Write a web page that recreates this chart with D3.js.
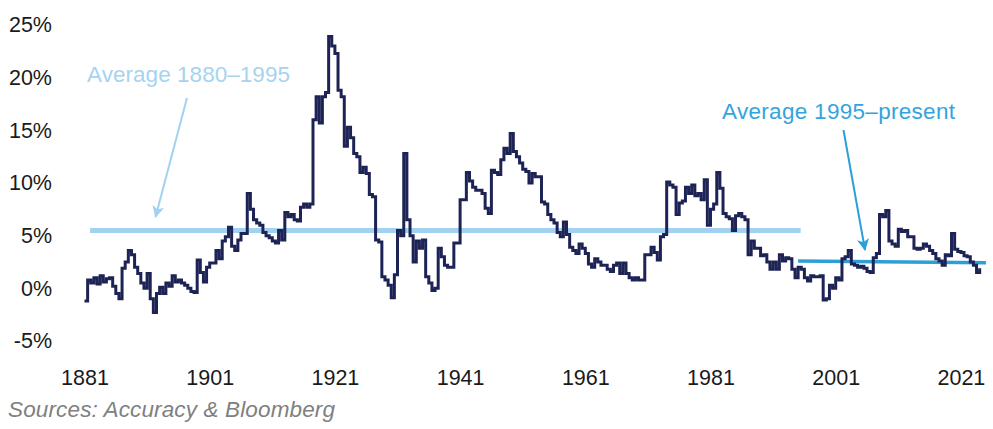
<!DOCTYPE html>
<html>
<head>
<meta charset="utf-8">
<script src="https://cdn.jsdelivr.net/npm/d3@7/dist/d3.min.js"></script>
<style>
  html, body { margin: 0; padding: 0; background: #ffffff; }
  svg { display: block; }
  text { font-family: "Liberation Sans", Arial, Helvetica, sans-serif; }
</style>
</head>
<body>
<svg id="chart" width="993" height="429"></svg>
<script>
// ---------- DATA ----------
const firstYear = 1881;
// two readings per year: [first half, second half], in %
const inflation = [
  [-1.2, 0.8], [0.5, 1.0], [0.4, 1.2], [0.6, 0.9], [1.0, 0.2],      // 1881-1885
  [-0.5, -1.0], [1.9, 2.5], [3.6, 3.2], [2.0, 1.4], [0.5, 0.0],     // 1886-1890
  [1.4, -1.0], [-2.3, -0.5], [0.1, -0.5], [0.5, 0.2], [1.2, 0.6],   // 1891-1895
  [0.8, 0.5], [0.3, 0.0], [-0.3, -0.4], [2.7, 1.5], [0.6, 2.0],     // 1896-1900
  [2.4, 2.4], [3.6, 2.8], [4.5, 4.9], [5.8, 4.0], [3.6, 4.6],       // 1901-1905
  [5.2, 5.2], [9.0, 7.5], [6.5, 6.2], [6.0, 5.3], [5.0, 4.8],       // 1906-1910
  [4.5, 4.3], [5.5, 4.6], [7.2, 6.8], [7.0, 6.5], [6.4, 7.7],       // 1911-1915
  [8.0, 7.7], [8.0, 16.0], [18.2, 15.7], [18.2, 18.6], [23.9, 23.0],// 1916-1920
  [22.3, 18.8], [18.2, 13.5], [15.3, 14.3], [12.8, 12.5], [11.0, 11.5], // 1921-1925
  [10.9, 8.9], [8.7, 4.6], [4.4, 1.1], [0.8, 0.3], [-0.9, 1.3],     // 1926-1930
  [5.5, 5.0], [12.8, 6.5], [5.0, 2.5], [4.5, 3.8], [4.6, 1.1],      // 1931-1935
  [0.5, -0.2], [0.0, 3.8], [3.0, 2.2], [2.0, 2.0], [4.3, 4.3],      // 1936-1940
  [8.4, 8.4], [11.0, 10.2], [9.6, 9.3], [9.3, 9.0], [7.6, 7.1],     // 1941-1945
  [11.2, 11.0], [10.8, 12.2], [13.3, 12.8], [14.7, 13.0], [12.5, 11.9], // 1946-1950
  [11.3, 11.1], [10.0, 10.9], [10.6, 10.6], [8.2, 8.0], [7.0, 6.5], // 1951-1955
  [6.2, 5.3], [4.9, 6.3], [5.1, 3.9], [3.6, 3.3], [4.2, 3.8],       // 1956-1960
  [3.3, 2.3], [2.0, 2.8], [2.5, 2.2], [2.2, 1.8], [1.6, 2.2],       // 1961-1965
  [2.4, 1.4], [2.4, 1.4], [1.0, 0.8], [1.0, 0.8], [0.8, 3.2],       // 1966-1970
  [3.2, 3.9], [3.4, 2.7], [4.9, 5.1], [10.1, 9.8], [9.6, 7.0],      // 1971-1975
  [8.1, 8.3], [9.6, 9.0], [9.8, 8.8], [9.0, 8.4], [10.3, 6.0],      // 1976-1980
  [7.5, 8.0], [11.0, 9.5], [7.1, 6.8], [6.6, 5.5], [6.9, 7.1],      // 1981-1985
  [6.8, 6.5], [3.2, 4.5], [3.8, 3.8], [3.1, 3.2], [2.5, 1.8],       // 1986-1990
  [2.5, 1.8], [3.2, 2.6], [2.9, 2.8], [1.8, 1.0], [2.0, 1.8],       // 1991-1995
  [1.0, 0.7], [1.2, 1.1], [1.1, 1.2], [-1.1, -1.0], [0.3, 0.0],     // 1996-2000
  [1.0, 0.8], [2.8, 3.0], [3.6, 2.3], [2.2, 2.0], [2.1, 1.9],       // 2001-2005
  [1.6, 1.5], [2.9, 3.3], [7.0, 6.8], [7.4, 4.5], [4.2, 4.0],       // 2006-2010
  [5.6, 5.4], [5.5, 4.9], [4.9, 3.8], [3.7, 3.8], [4.2, 4.0],       // 2011-2015
  [3.6, 3.3], [2.8, 2.6], [2.2, 3.2], [3.1, 5.2], [3.7, 3.5],       // 2016-2020
  [3.4, 3.1], [3.0, 2.5], [2.2, 1.5], [1.9]                         // 2021-2024
];

const yTicks = [-5, 0, 5, 10, 15, 20, 25];
const xTicks = [1881, 1901, 1921, 1941, 1961, 1981, 2001, 2021];

const averageLines = [
  { label: "Average 1880–1995",    from: 1881.9, to: 1995.4, start: 5.5, end: 5.5 },
  { label: "Average 1995–present", from: 1995.0, to: 2025.0, start: 2.6, end: 2.43 }
];

const sourceNote = "Sources: Accuracy & Bloomberg";

// ---------- CHART ----------
const svg = d3.select("#chart");

const x = d3.scaleLinear().domain([1881, 2021]).range([84.5, 960.9]);
const y = d3.scaleLinear().domain([-5, 25]).range([341, 25]);

const points = [];
inflation.forEach((pair, i) => {
  pair.forEach((v, j) => points.push({ t: firstYear + i + j * 0.5, v }));
});

// average lines (drawn beneath the series)
const avgStyles = [
  { stroke: "#a3d1f0", width: 5 },
  { stroke: "#2c9fd9", width: 3.5 }
];
averageLines.forEach((a, i) => {
  svg.append("line")
    .attr("x1", x(a.from)).attr("y1", y(a.start))
    .attr("x2", x(a.to)).attr("y2", y(a.end))
    .attr("stroke", avgStyles[i].stroke)
    .attr("stroke-width", avgStyles[i].width);
});

// series
const line = d3.line()
  .x(d => x(d.t))
  .y(d => y(d.v))
  .curve(d3.curveStepAfter);

svg.append("path")
  .datum(points)
  .attr("fill", "none")
  .attr("stroke", "#1d2455")
  .attr("stroke-width", 3)
  .attr("stroke-linejoin", "miter")
  .attr("d", line);

// y axis
const yAxis = svg.append("g")
  .attr("transform", "translate(52,0)")
  .call(d3.axisLeft(y).tickValues(yTicks).tickSize(0).tickPadding(0)
        .tickFormat(d => d + "%"));
yAxis.select(".domain").remove();
yAxis.selectAll("text")
  .attr("font-size", 21.5)
  .attr("fill", "#1a1a1a")
  .style("font-family", '"Liberation Sans", Arial, sans-serif');

// x axis
const xAxis = svg.append("g")
  .attr("transform", "translate(0,369.5)")
  .call(d3.axisBottom(x).tickValues(xTicks).tickSize(0).tickPadding(0)
        .tickFormat(d3.format("d")));
xAxis.select(".domain").remove();
xAxis.selectAll("text")
  .attr("font-size", 21.5)
  .attr("fill", "#1a1a1a")
  .style("font-family", '"Liberation Sans", Arial, sans-serif');

// arrow markers
const defs = svg.append("defs");
function marker(id, color) {
  defs.append("marker")
    .attr("id", id)
    .attr("viewBox", "0 0 12 12")
    .attr("refX", 11).attr("refY", 6)
    .attr("markerWidth", 12).attr("markerHeight", 12)
    .attr("markerUnits", "userSpaceOnUse")
    .attr("orient", "auto")
    .append("path")
    .attr("d", "M0,0 L12,6 L0,12 L3,6 Z")
    .attr("fill", color);
}
marker("arrowLight", "#a3d1f0");
marker("arrowDark", "#2c9fd9");

// annotation 1
svg.append("text")
  .attr("x", 87).attr("y", 81.5)
  .attr("font-size", 22.5)
  .attr("fill", "#a6d3ef")
  .attr("textLength", 203)
  .attr("lengthAdjust", "spacing")
  .text(averageLines[0].label);
svg.append("line")
  .attr("x1", 187).attr("y1", 98)
  .attr("x2", 155.5).attr("y2", 217)
  .attr("stroke", "#a3d1f0").attr("stroke-width", 2)
  .attr("marker-end", "url(#arrowLight)");

// annotation 2
svg.append("text")
  .attr("x", 722).attr("y", 119.3)
  .attr("font-size", 22.5)
  .attr("fill", "#34a4dc")
  .attr("textLength", 233)
  .attr("lengthAdjust", "spacing")
  .text(averageLines[1].label);
svg.append("line")
  .attr("x1", 843.5).attr("y1", 130)
  .attr("x2", 865).attr("y2", 250)
  .attr("stroke", "#2c9fd9").attr("stroke-width", 2)
  .attr("marker-end", "url(#arrowDark)");

// source note
svg.append("text")
  .attr("x", 8).attr("y", 416.5)
  .attr("font-size", 22.5)
  .attr("font-style", "italic")
  .attr("fill", "#808080")
  .attr("textLength", 327)
  .attr("lengthAdjust", "spacing")
  .text(sourceNote);
</script>
</body>
</html>
